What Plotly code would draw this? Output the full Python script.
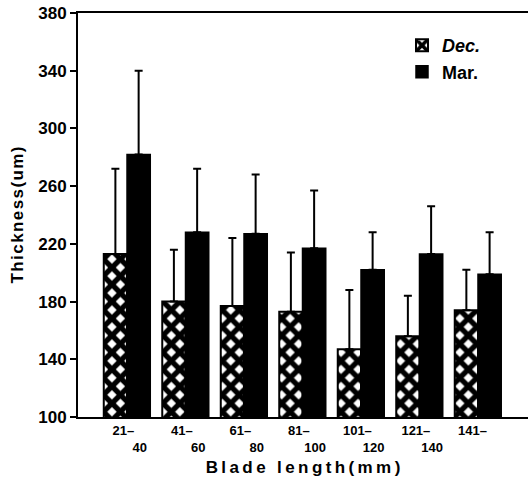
import plotly.graph_objects as go

# ---- data ----
range_lo = ["21", "41", "61", "81", "101", "121", "141"]
range_hi = ["40", "60", "80", "100", "120", "140", ""]
dec_mean = [213, 180, 177, 173, 147, 156, 174]
dec_sd = [59, 36, 47, 41, 41, 28, 28]
mar_mean = [282, 228, 227, 217, 202, 213, 199]
mar_sd = [58, 44, 41, 40, 26, 33, 29]
y_ticks = [100, 140, 180, 220, 260, 300, 340, 380]

NB = "\u00a0"
tick_text = []
for lo, hi in zip(range_lo, range_hi):
    if hi:
        tick_text.append(lo + "\u2013" + NB * 2 + "<br>" + NB * 7 + hi)
    else:
        tick_text.append(lo + "\u2013" + NB * 3)

xs = list(range(len(range_lo)))

FONT = "Liberation Sans, Arial, sans-serif"

def spaced(s, sp):
    return sp.join(list(s))

fig = go.Figure()
fig.add_trace(go.Bar(
    x=xs, y=dec_mean, name="<i>Dec.</i>",
    marker=dict(color="white", line=dict(color="black", width=2),
                pattern=dict(shape="x", size=12, solidity=0.7,
                             fgcolor="black", fgopacity=1, bgcolor="white",
                             fillmode="overlay")),
    error_y=dict(type="data", symmetric=False, array=dec_sd,
                 arrayminus=[0] * len(dec_sd), color="black", thickness=2, width=4),
))
fig.add_trace(go.Bar(
    x=xs, y=mar_mean, name="Mar.",
    marker=dict(color="black", line=dict(color="black", width=1.5)),
    error_y=dict(type="data", symmetric=False, array=mar_sd,
                 arrayminus=[0] * len(mar_sd), color="black", thickness=2, width=4),
))

fig.update_layout(
    width=529, height=487,
    margin=dict(l=78, r=1, t=13, b=70),
    paper_bgcolor="white", plot_bgcolor="white",
    barmode="group", bargap=0.205, bargroupgap=0,
    font=dict(family=FONT, color="black"),
    showlegend=True,
    legend=dict(x=0.72, y=0.965, xanchor="left", yanchor="top",
                bgcolor="rgba(0,0,0,0)",
                font=dict(family=FONT, size=18, color="black", weight="bold"),
                traceorder="normal"),
    xaxis=dict(
        range=[-0.838, 6.855],
        tickmode="array", tickvals=xs, ticktext=tick_text,
        tickfont=dict(family=FONT, size=13, color="black", weight="bold"),
        ticks="", showgrid=False, zeroline=False,
        showline=True, mirror=True, linecolor="black", linewidth=2,
        title=dict(text=spaced("Blade length(mm)", "\u2009"),
                   font=dict(family=FONT, size=17, color="black", weight="bold"),
                   standoff=8),
    ),
    yaxis=dict(
        range=[100, 380],
        tickmode="array", tickvals=y_ticks,
        tickfont=dict(family=FONT, size=17, color="black", weight="bold"),
        ticks="outside", ticklen=6, tickwidth=2, tickcolor="black",
        showgrid=False, zeroline=False,
        showline=True, linecolor="black", linewidth=2,
        title=dict(text=spaced("Thickness(um)", "\u200a"),
                   font=dict(family=FONT, size=17, color="black", weight="bold"),
                   standoff=10),
    ),
)

fig.write_html("out.html")
